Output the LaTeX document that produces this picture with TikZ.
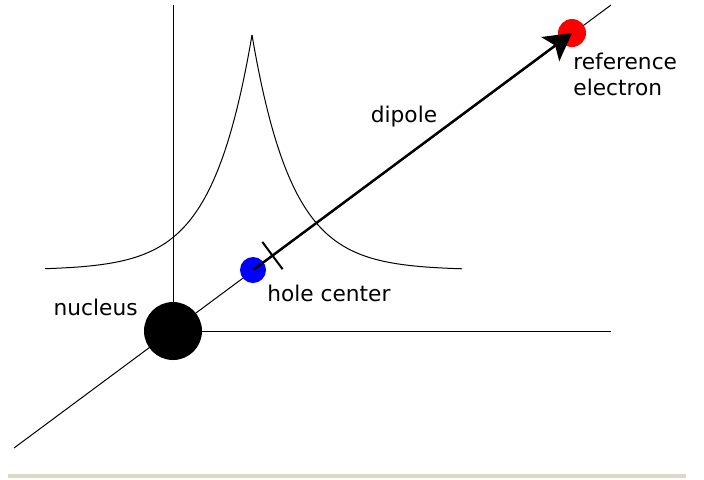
\documentclass[tikz,border=0pt]{standalone}
\usepackage{fontspec}
\setmainfont{DejaVu Sans}
\usepackage{xcolor}
\usetikzlibrary{arrows.meta,positioning,calc}
\definecolor{dpbar}{HTML}{DDD9C8}
\tikzset{
  ax/.style={line width=0.5pt,color=black},
  dot/.style={circle,inner sep=0pt,fill=#1},
  lbl/.style={inner sep=0pt,align=left,font=\fontsize{10.85}{13}\selectfont},
  dip/.style={-{Stealth[length=13.5pt,width=15pt,inset=3pt]},line width=1.2pt},
  tickmark/.style={line width=1pt},
}

\begin{document}
\begin{tikzpicture}[x=0.5pt,y=-0.5pt]
\useasboundingbox (0,0) rectangle (704,479);
\coordinate (nuc) at (173,331);
\coordinate (hc) at (253,270);
\coordinate (el) at (572,33);
% axes and line through the centres
\draw[ax] (173,5) -- (nuc) -- (611,331);
\draw[ax] (14,448) -- (611,5);
% density cusp
\draw[ax] plot[domain=45:252,samples=120] (\x,{270-235*exp(-abs(\x-252)/40)});
\draw[ax] plot[domain=252:462,samples=120] (\x,{270-235*exp(-abs(\x-252)/40)});
% charges
\node[dot=black,minimum size=29pt] (nucleus) at (nuc) {};
\node[dot=blue,minimum size=13pt] (hole) at (hc) {};
\node[dot=red,minimum size=14pt] (elec) at (el) {};
\draw[dip] (hole.center) -- (elec.center);
\coordinate (tk) at ($(hole.center)!0.061!(elec.center)$);
\draw[tickmark] ($(tk)!8.5pt!90:(elec.center)$) -- ($(tk)!8.5pt!-90:(elec.center)$);
% labels
\node[lbl,anchor=east] (nuclbl) at (138,307) {nucleus};
\node[lbl,anchor=west] (holelbl) at (267,293) {hole center};
\node[lbl] (diplbl) at (404,117) {dipole};
\node[lbl,anchor=north west] (ellbl) at (573,53) {reference\\electron};
\fill[dpbar] (8,474) rectangle (686,478);
\end{tikzpicture}
\end{document}
